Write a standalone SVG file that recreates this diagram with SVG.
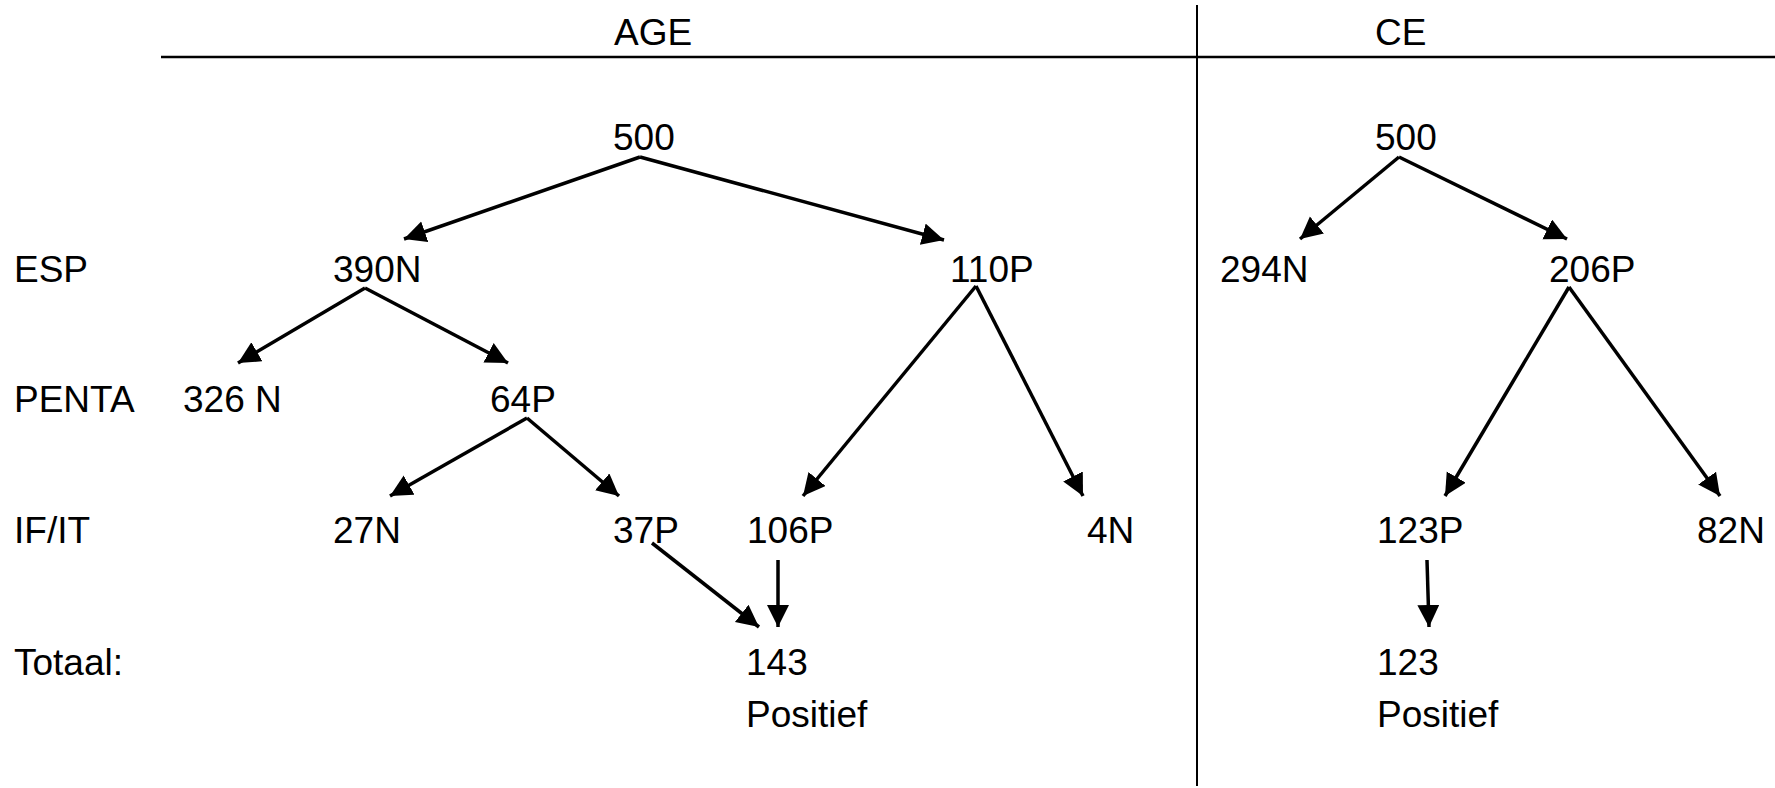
<svg xmlns="http://www.w3.org/2000/svg" width="1775" height="788" viewBox="0 0 1775 788">
<style>
text{font-family:"Liberation Sans",Arial,sans-serif;font-size:37px;fill:#000}
.c line{stroke:#000;stroke-width:3.5;fill:none;marker-end:url(#ah)}
.rule{stroke:#000;stroke-width:2.5}
</style>
<defs>
<marker id="ah" markerUnits="userSpaceOnUse" markerWidth="24" markerHeight="24" refX="22" refY="11" orient="auto">
<path d="M0,0 L22,11 L0,22 z" fill="#000"/>
</marker>
</defs>
<rect width="1775" height="788" fill="#fff"/>
<g id="frame">
<line class="rule" x1="161" y1="57" x2="1775" y2="57"/>
<line x1="1197" y1="5" x2="1197" y2="786" stroke="#000" stroke-width="2"/>
</g>
<g id="headers">
<text x="614" y="45">AGE</text>
<text x="1375" y="45">CE</text>
</g>
<g id="rowlabels">
<text x="14" y="282">ESP</text>
<text x="14" y="412">PENTA</text>
<text x="14" y="543">IF/IT</text>
<text x="14" y="675">Totaal:</text>
</g>
<g id="age-500"><text x="613" y="150">500</text></g>
<g id="age-390N"><text x="333" y="282">390N</text></g>
<g id="age-110P"><text x="950" y="282">110P</text></g>
<g id="age-326N"><text x="183" y="412">326 N</text></g>
<g id="age-64P"><text x="490" y="412">64P</text></g>
<g id="age-27N"><text x="333" y="543">27N</text></g>
<g id="age-37P"><text x="613" y="543">37P</text></g>
<g id="age-106P"><text x="747" y="543">106P</text></g>
<g id="age-4N"><text x="1087" y="543">4N</text></g>
<g id="age-total"><text x="746" y="675">143</text><text x="746" y="727">Positief</text></g>
<g id="ce-500"><text x="1375" y="150">500</text></g>
<g id="ce-294N"><text x="1220" y="282">294N</text></g>
<g id="ce-206P"><text x="1549" y="282">206P</text></g>
<g id="ce-123P"><text x="1377" y="543">123P</text></g>
<g id="ce-82N"><text x="1697" y="543">82N</text></g>
<g id="ce-total"><text x="1377" y="675">123</text><text x="1377" y="727">Positief</text></g>
<g id="connectors" class="c">
<line x1="640" y1="157" x2="404" y2="239"/>
<line x1="640" y1="157" x2="944" y2="240"/>
<line x1="365" y1="288" x2="238" y2="363"/>
<line x1="365" y1="288" x2="508" y2="363"/>
<line x1="527" y1="418" x2="390" y2="496"/>
<line x1="527" y1="418" x2="619" y2="496"/>
<line x1="976" y1="286" x2="803" y2="496"/>
<line x1="976" y1="286" x2="1083" y2="496"/>
<line x1="652" y1="543" x2="759" y2="627"/>
<line x1="778" y1="560" x2="778" y2="627"/>
<line x1="1399" y1="157" x2="1300" y2="239"/>
<line x1="1399" y1="157" x2="1567" y2="239"/>
<line x1="1569" y1="287" x2="1445" y2="496"/>
<line x1="1569" y1="287" x2="1720" y2="496"/>
<line x1="1427" y1="560" x2="1429" y2="627"/>
</g>
</svg>
